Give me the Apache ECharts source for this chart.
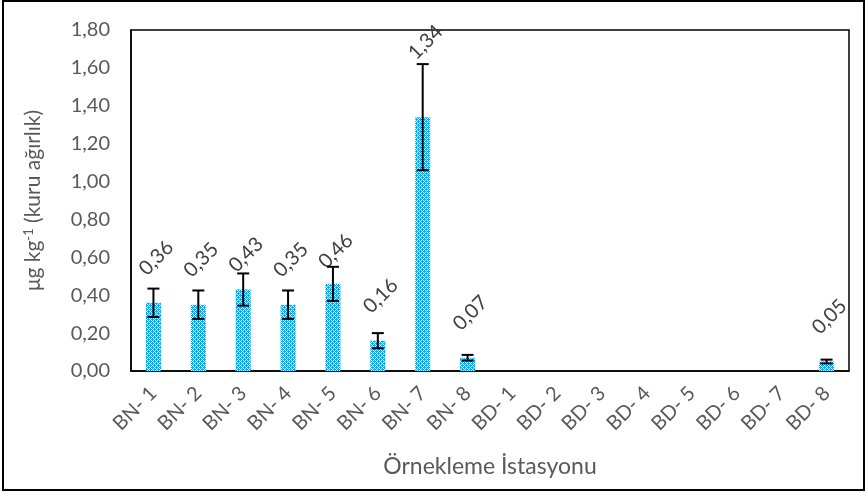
<!DOCTYPE html>
<html><head><meta charset="utf-8">
<script src="https://cdn.jsdelivr.net/npm/echarts@6/dist/echarts.min.js"></script>
<style>html,body{margin:0;padding:0;background:#fff}#c{width:868px;height:493px}</style>
</head><body><div id="c"></div>
<script>
const categories = ['BN- 1','BN- 2','BN- 3','BN- 4','BN- 5','BN- 6','BN- 7','BN- 8','BD- 1','BD- 2','BD- 3','BD- 4','BD- 5','BD- 6','BD- 7','BD- 8'];
const values = [0.36,0.35,0.43,0.35,0.46,0.16,1.34,0.07,null,null,null,null,null,null,null,0.05];
const errors = [0.075,0.075,0.085,0.075,0.09,0.04,0.28,0.015,null,null,null,null,null,null,null,0.01];
const yAxisTitle = 'μg kg{sup|-1} (kuru ağırlık)';
const xAxisTitle = 'Örnekleme İstasyonu';

const FONT = 'Lato';
const fmt = v => v.toFixed(2).replace('.', ',');

// bar fill pattern
const tile = document.createElement('canvas');
tile.width = 4; tile.height = 4;
const tctx = tile.getContext('2d');
const rows = ['BWBW','WBBB','BWBW','BBWB'];
for (let r = 0; r < 4; r++) for (let c = 0; c < 4; c++) {
  tctx.fillStyle = rows[r][c] === 'B' ? '#14a6ea' : '#e6f6fd';
  tctx.fillRect(c, r, 1, 1);
}

const extraDist = {2: -10, 4: -12, 6: 30};
const barData = values.map((v, i) => v == null ? null : {
  value: v,
  label: { distance: 42 + (extraDist[i] || 0) }
});
const errData = [];
values.forEach((v, i) => { if (v != null && errors[i] != null) errData.push([i, v, errors[i]]); });

const chart = echarts.init(document.getElementById('c'));
chart.setOption({
  animation: false,
  textStyle: { fontFamily: FONT },
  graphic: [{ type: 'rect', shape: { x: 3, y: 1, width: 861, height: 489 }, style: { fill: 'none', stroke: '#000', lineWidth: 2 }, z: 100 }],
  grid: { left: 131, top: 30, width: 718, height: 341, show: true, borderColor: '#000', borderWidth: 1.5, containLabel: false },
  xAxis: {
    type: 'category', data: categories,
    axisLine: { lineStyle: { color: '#000', width: 1.5 } },
    axisTick: { show: false },
    axisLabel: { rotate: 45, interval: 0, fontSize: 20, color: '#595959', margin: 19, fontFamily: FONT },
    name: xAxisTitle, nameLocation: 'middle', nameGap: 84,
    nameTextStyle: { fontSize: 23, color: '#595959', fontFamily: FONT }
  },
  yAxis: {
    type: 'value', min: 0, max: 1.8, interval: 0.2,
    axisLine: { show: true, lineStyle: { color: '#000', width: 1.5 } },
    axisTick: { show: false },
    splitLine: { show: false },
    axisLabel: { formatter: fmt, fontSize: 20, color: '#595959', margin: 21, fontFamily: FONT },
    name: yAxisTitle, nameLocation: 'middle', nameRotate: 90, nameGap: 86,
    nameTextStyle: { fontSize: 21, color: '#595959', fontFamily: FONT,
      rich: { sup: { fontSize: 13, verticalAlign: 'top', padding: [0,0,10,0], color: '#595959', fontFamily: FONT } } }
  },
  series: [
    {
      type: 'bar', data: barData, barWidth: 15,
      itemStyle: { color: { image: tile, repeat: 'repeat' } },
      label: { show: true, position: 'top', rotate: 45, align: 'center', verticalAlign: 'middle', offset: [4, 0],
        formatter: p => fmt(p.value), fontSize: 20, color: '#404040', fontFamily: FONT },
      z: 2
    },
    {
      type: 'custom', data: errData, z: 3,
      encode: { x: 0, y: 1 },
      renderItem: (params, api) => {
        const x = api.value(0), v = api.value(1), e = api.value(2);
        const hi = api.coord([x, v + e]);
        const lo = api.coord([x, v - e]);
        const hw = 6;
        const st = { stroke: '#000', lineWidth: 2 };
        return { type: 'group', children: [
          { type: 'line', shape: { x1: hi[0], y1: hi[1], x2: lo[0], y2: lo[1] }, style: st },
          { type: 'line', shape: { x1: hi[0]-hw, y1: hi[1], x2: hi[0]+hw, y2: hi[1] }, style: st },
          { type: 'line', shape: { x1: lo[0]-hw, y1: lo[1], x2: lo[0]+hw, y2: lo[1] }, style: st }
        ]};
      }
    }
  ]
});
</script></body></html>
